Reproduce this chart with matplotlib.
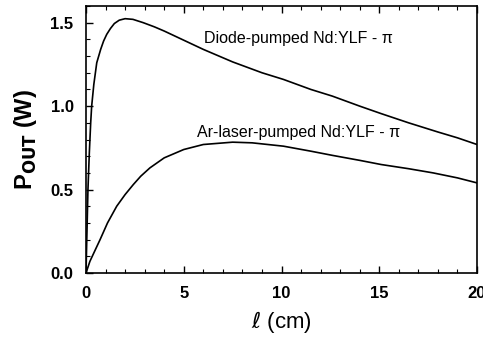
import matplotlib.pyplot as plt
from matplotlib.ticker import MultipleLocator

plt.rcParams['font.family'] = ['Liberation Sans', 'DejaVu Sans']

# diode-pumped Nd:YLF (pi)
diode_l = [0, 0.05, 0.1, 0.17, 0.24, 0.29, 0.4, 0.55, 0.75, 0.9, 1.06, 1.25, 1.45, 1.7, 2.0,
           2.4, 2.93, 3.5, 4.0, 5.0, 6.0, 7.5, 9.0, 10.1, 11.5, 12.6, 14.0, 15.1, 16.5,
           18.0, 19.0, 20.0]
diode_p = [0, 0.25, 0.5, 0.72, 0.9, 1.0, 1.13, 1.26, 1.34, 1.39, 1.43, 1.465, 1.495, 1.515,
           1.524, 1.52, 1.50, 1.475, 1.45, 1.395, 1.34, 1.265, 1.20, 1.16, 1.10, 1.06,
           1.00, 0.955, 0.90, 0.845, 0.81, 0.77]

# Ar-laser-pumped Nd:YLF (pi)
ar_l = [0, 0.2, 0.72, 1.1, 1.57, 2.0, 2.42, 2.8, 3.27, 4.0, 5.0, 6.0, 7.5, 8.5, 10.1,
        11.5, 12.6, 14.0, 15.1, 16.5, 17.75, 19.0, 20.0]
ar_p = [0, 0.07, 0.2, 0.3, 0.40, 0.47, 0.53, 0.58, 0.63, 0.69, 0.74, 0.77, 0.784, 0.78,
        0.76, 0.73, 0.705, 0.675, 0.65, 0.625, 0.60, 0.57, 0.54]

fig = plt.figure(figsize=(4.83, 3.39), dpi=100)
ax = fig.add_axes([86 / 483, 1 - 273 / 339, 391 / 483, 267 / 339])

ax.plot(diode_l, diode_p, color='black', lw=1.2)
ax.plot(ar_l, ar_p, color='black', lw=1.2)

ax.text((298 - 86) / 391, 1 - (39 - 6) / 267, 'Diode-pumped Nd:YLF - π',
        transform=ax.transAxes, ha='center', va='center', fontsize=11.5)
ax.text((197 - 86) / 391, 1 - (133 - 6) / 267, 'Ar-laser-pumped Nd:YLF - π',
        transform=ax.transAxes, ha='left', va='center', fontsize=11.5)

ax.set_xlim(0, 20)
ax.set_ylim(0, 1.6)
ax.xaxis.set_major_locator(MultipleLocator(5))
ax.xaxis.set_minor_locator(MultipleLocator(1))
ax.yaxis.set_minor_locator(MultipleLocator(0.1))
ax.set_yticks([0, 0.5, 1.0, 1.5])
ax.set_yticklabels(['0.0', '0.5', '1.0', '1.5'])
ax.tick_params(which='both', direction='in', top=True, right=False)
ax.tick_params(which='major', length=5, width=1)
ax.tick_params(which='minor', length=3, width=0.8)
ax.tick_params(axis='x', pad=9)
ax.tick_params(axis='y', pad=9)
for lab in ax.get_xticklabels() + ax.get_yticklabels():
    lab.set_fontsize(12)
    lab.set_fontweight('bold')
for s in ax.spines.values():
    s.set_linewidth(1.2)

ax.set_xlabel('$\\ell$ (cm)', fontsize=16, labelpad=6)
ax.set_ylabel('P$_{\\mathbf{OUT}}$ (W)', fontsize=17, fontweight='bold', labelpad=8)

fig.savefig('out.png', dpi=100)
